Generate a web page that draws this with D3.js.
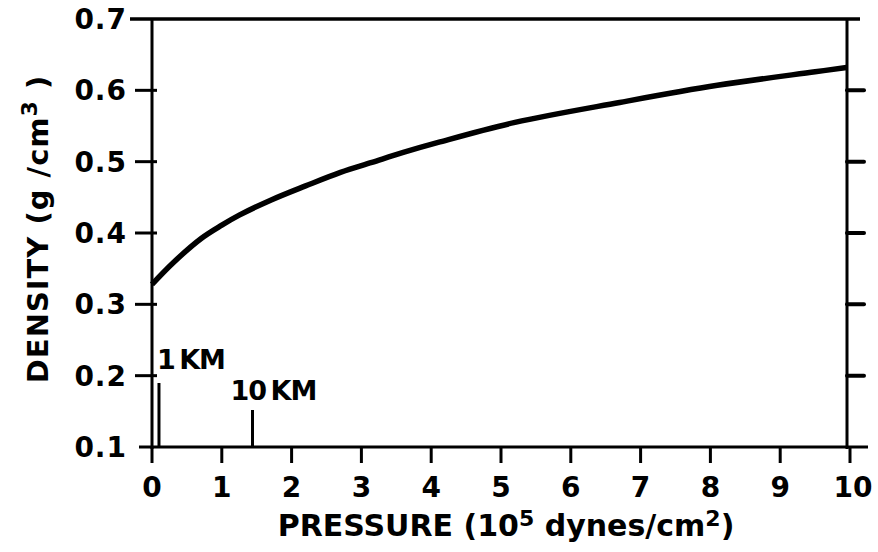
<!DOCTYPE html>
<html>
<head>
<meta charset="utf-8">
<script src="https://cdn.jsdelivr.net/npm/d3@7"></script>
<style>
  html, body { margin: 0; padding: 0; background: #fff; }
  svg { display: block; }
  text { font-family: "DejaVu Sans", "Liberation Sans", sans-serif; font-weight: bold; fill: #000; }
</style>
</head>
<body>
<svg id="chart" width="878" height="552"></svg>
<script>
// ---- data ----
const pressure = [0, 0.3, 0.7, 1.0, 1.25, 1.7, 2.2, 2.7, 3.15, 3.6, 4.1, 5.2, 6.7, 8.1, 9.5, 9.95];
const density  = [0.328, 0.358, 0.392, 0.411, 0.425, 0.446, 0.466, 0.485, 0.499, 0.513, 0.527, 0.555, 0.583, 0.607, 0.626, 0.632];
const xTicks = [0, 1, 2, 3, 4, 5, 6, 7, 8, 9, 10];
const xTickLabels = ["0", "1", "2", "3", "4", "5", "6", "7", "8", "9", "10"];
const yTicks = [0.1, 0.2, 0.3, 0.4, 0.5, 0.6, 0.7];
const yTickLabels = ["0.1", "0.2", "0.3", "0.4", "0.5", "0.6", "0.7"];
const depthLabels = ["1 KM", "10 KM"];
const depthPressure = [0.1, 1.44];

// ---- layout ----
const svg = d3.select("#chart");
const x = d3.scaleLinear().domain([0, 10]).range([152, 850]);
const y = d3.scaleLinear().domain([0.1, 0.7]).range([447, 19]);
const AX = 3;

const g = svg.append("g");

// frame lines
const x0 = x(0), x1 = x(10), yb = y(0.1), yt = y(0.7);
g.append("line").attr("x1", x0).attr("x2", x0).attr("y1", yt).attr("y2", yb + 2)
  .attr("stroke", "#000").attr("stroke-width", AX);
g.append("line").attr("x1", x1 - 3).attr("x2", x1 - 3).attr("y1", yt).attr("y2", yb + 2)
  .attr("stroke", "#000").attr("stroke-width", AX);
g.append("line").attr("x1", x0 - 22).attr("x2", x1 + 10).attr("y1", yt).attr("y2", yt)
  .attr("stroke", "#000").attr("stroke-width", AX + 0.5);
g.append("line").attr("x1", x0 - 13).attr("x2", x1 + 18).attr("y1", yb).attr("y2", yb)
  .attr("stroke", "#000").attr("stroke-width", AX);

// left / right axis ticks + labels
const yInner = yTicks.filter(v => v > 0.1 && v < 0.7);
g.selectAll(".ltick").data(yInner).enter().append("line")
  .attr("x1", x0 - 17).attr("x2", x0 + 5)
  .attr("y1", d => y(d)).attr("y2", d => y(d))
  .attr("stroke", "#000").attr("stroke-width", AX);
g.selectAll(".rtick").data(yInner).enter().append("line")
  .attr("x1", x1 - 3).attr("x2", x1 + 14)
  .attr("y1", d => y(d)).attr("y2", d => y(d))
  .attr("stroke", "#000").attr("stroke-width", AX + 1).attr("stroke-linecap", "round");
g.selectAll(".ylab").data(yTicks).enter().append("text")
  .attr("x", x0 - 25).attr("y", d => y(d) + 10)
  .attr("text-anchor", "end").attr("font-size", 28).attr("letter-spacing", 1)
  .text((d, i) => yTickLabels[i]);

// bottom ticks + labels
g.selectAll(".btick").data(xTicks).enter().append("line")
  .attr("x1", d => x(d)).attr("x2", d => x(d))
  .attr("y1", yb).attr("y2", yb + 16)
  .attr("stroke", "#000").attr("stroke-width", AX);
g.selectAll(".xlab").data(xTicks).enter().append("text")
  .attr("x", d => x(d) + (d === 10 ? 3 : 0)).attr("y", 497)
  .attr("text-anchor", "middle").attr("font-size", 28)
  .text((d, i) => xTickLabels[i]);

// depth markers
const markTop = [383, 410];
const labelBase = [369, 400];
const labelDx = [-2, -22];
g.selectAll(".mark").data(depthPressure).enter().append("line")
  .attr("x1", d => x(d)).attr("x2", d => x(d))
  .attr("y1", (d, i) => markTop[i]).attr("y2", yb)
  .attr("stroke", "#000").attr("stroke-width", AX);
g.selectAll(".mlab").data(depthPressure).enter().append("text")
  .attr("x", (d, i) => x(d) + labelDx[i]).attr("y", (d, i) => labelBase[i])
  .attr("font-size", 27).attr("letter-spacing", -1)
  .text((d, i) => depthLabels[i].replace(" ", "\u2009"));

// curve
const line = d3.line().x(d => x(d[0])).y(d => y(d[1])).curve(d3.curveCatmullRom.alpha(0.5));
g.append("path").datum(pressure.map((p, i) => [p, density[i]]))
  .attr("d", line).attr("fill", "none").attr("stroke", "#000")
  .attr("stroke-width", 5.5).attr("stroke-linecap", "butt");

// x title
const xt = svg.append("text").attr("x", 506).attr("y", 536)
  .attr("text-anchor", "middle").attr("font-size", 30);
xt.append("tspan").text("PRESSURE (10");
xt.append("tspan").attr("dy", -10).attr("font-size", 22).text("5");
xt.append("tspan").attr("dy", 10).text(" dynes/cm");
xt.append("tspan").attr("dy", -10).attr("font-size", 22).text("2");
xt.append("tspan").attr("dy", 10).text(")");

// y title
const ytl = svg.append("text").attr("transform", "translate(48,229) rotate(-90)")
  .attr("text-anchor", "middle").attr("font-size", 29).attr("letter-spacing", 1);
ytl.append("tspan").text("DENSITY (g /cm");
ytl.append("tspan").attr("dy", -11).attr("font-size", 22).text("3");
ytl.append("tspan").attr("dy", 11).text(" )");
</script>
</body>
</html>
